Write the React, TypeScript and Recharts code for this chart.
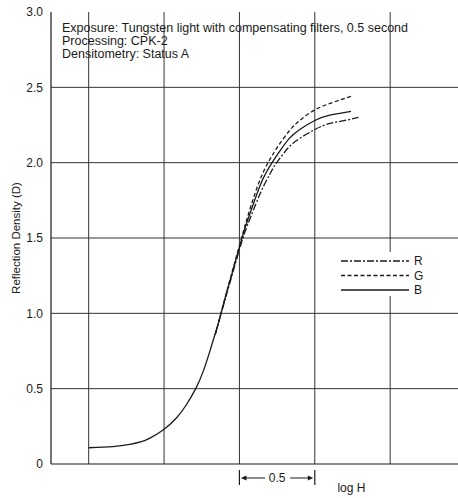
import {
  CartesianGrid,
  Label,
  Legend,
  Line,
  LineChart,
  ReferenceDot,
  ReferenceLine,
  XAxis,
  YAxis,
} from "recharts";

const FONT = '"Liberation Sans", Arial, Helvetica, sans-serif';
const INK = "#1a1a1a";
const GRID = "#333";

// axis / grid values
const densityTicks = [0, 0.5, 1, 1.5, 2, 2.5, 3];
const densityGrid = [0.5, 1, 1.5, 2, 2.5];
const logHGrid = [0.25, 0.75, 1.25, 1.75, 2.25];

// curves (log H in arbitrary units, D = reflection density)
const bLogH = [0.25, 0.41, 0.523, 0.6, 0.656, 0.744, 0.832, 0.899, 0.96, 1.009, 1.053, 1.097, 1.12, 1.16, 1.2, 1.267, 1.313, 1.384, 1.42, 1.46, 1.52, 1.58, 1.65, 1.75, 1.85, 1.99];
const bDensity = [0.108, 0.115, 0.13, 0.148, 0.172, 0.226, 0.305, 0.395, 0.5, 0.613, 0.746, 0.89, 0.97, 1.12, 1.26, 1.5, 1.643, 1.84, 1.92, 1.99, 2.08, 2.16, 2.22, 2.28, 2.315, 2.34];

const gLogH = [1.09, 1.12, 1.16, 1.2, 1.267, 1.313, 1.38, 1.44, 1.5, 1.58, 1.65, 1.75, 1.87, 1.99];
const gDensity = [0.86, 0.97, 1.12, 1.27, 1.51, 1.67, 1.87, 2.0, 2.1, 2.21, 2.28, 2.35, 2.4, 2.44];

const rLogH = [1.09, 1.12, 1.16, 1.2, 1.267, 1.313, 1.39, 1.45, 1.49, 1.55, 1.62, 1.75, 1.85, 1.95, 2.04];
const rDensity = [0.86, 0.97, 1.11, 1.25, 1.48, 1.61, 1.8, 1.92, 1.99, 2.07, 2.14, 2.22, 2.26, 2.28, 2.3];

const notes = [
  "Exposure: Tungsten light with compensating filters, 0.5 second",
  "Processing: CPK-2",
  "Densitometry: Status A",
];

const zip = (xs: number[], ys: number[]) => xs.map((x, i) => ({ logH: x, d: ys[i] }));

const series = [
  { name: "R", data: zip(rLogH, rDensity), dash: "7 2 2 2" },
  { name: "G", data: zip(gLogH, gDensity), dash: "4 2.5" },
  { name: "B", data: zip(bLogH, bDensity), dash: undefined },
];

function NotesText(props: any) {
  const { cx, cy } = props;
  return (
    <text x={cx} y={cy} fontFamily={FONT} fontSize={12.5} fill={INK}>
      {notes.map((t, i) => (
        <tspan key={i} x={cx} y={cy + i * 13.4}>
          {t}
        </tspan>
      ))}
    </text>
  );
}

function LogHText(props: any) {
  const { cx, cy } = props;
  return (
    <text x={cx} y={cy} fontFamily={FONT} fontSize={12} fill={INK} dominantBaseline="central">
      log H
    </text>
  );
}

function DimArrow(props: any) {
  const { x1, x2, y1 } = props;
  const mid = (x1 + x2) / 2;
  const y = y1;
  return (
    <g>
      <line x1={x1} x2={x1} y1={y - 8} y2={y + 7} stroke={INK} strokeWidth={1.2} />
      <line x1={x2} x2={x2} y1={y - 8} y2={y + 7} stroke={INK} strokeWidth={1.2} />
      <line x1={x1 + 6} x2={mid - 12} y1={y} y2={y} stroke={INK} strokeWidth={1} />
      <line x1={mid + 13} x2={x2 - 6} y1={y} y2={y} stroke={INK} strokeWidth={1} />
      <polygon points={`${x1 + 1.5},${y} ${x1 + 7},${y - 2.5} ${x1 + 7},${y + 2.5}`} fill={INK} />
      <polygon points={`${x2 - 1.5},${y} ${x2 - 7},${y - 2.5} ${x2 - 7},${y + 2.5}`} fill={INK} />
      <text x={mid} y={y} textAnchor="middle" dominantBaseline="central" fontFamily={FONT} fontSize={12} fill={INK}>
        0.5
      </text>
    </g>
  );
}

function KeyBox() {
  return (
    <svg width={92} height={44} style={{ display: "block", background: "#fff" }}>
      {series.map((s, i) => (
        <g key={s.name}>
          <line
            x1={6}
            x2={74}
            y1={9 + i * 14.5}
            y2={9 + i * 14.5}
            stroke={INK}
            strokeWidth={1.3}
            strokeDasharray={s.dash}
          />
          <text x={79} y={9 + i * 14.5} dominantBaseline="central" fontFamily={FONT} fontSize={12} fill={INK}>
            {s.name}
          </text>
        </g>
      ))}
    </svg>
  );
}

export default function App() {
  return (
    <div style={{ position: "absolute", left: 0, top: 0, background: "#fff" }}>
      <LineChart width={458} height={498} margin={{ top: 12, right: 0, bottom: 0, left: 0 }}>
        <CartesianGrid horizontalValues={densityGrid} vertical={false} stroke={GRID} strokeWidth={1} />
        {logHGrid.map((v) => (
          <ReferenceLine key={v} x={v} stroke={GRID} strokeWidth={1} />
        ))}
        <XAxis
          type="number"
          dataKey="logH"
          domain={[0, 2.7]}
          ticks={logHGrid}
          tick={false}
          tickLine={false}
          height={34}
          allowDataOverflow
          axisLine={{ stroke: INK, strokeWidth: 1.2 }}
        />
        <YAxis
          type="number"
          domain={[0, 3]}
          ticks={densityTicks}
          tickFormatter={(v: number) => (v === 0 ? "0" : v.toFixed(1))}
          tickLine={false}
          width={51}
          axisLine={{ stroke: INK, strokeWidth: 1.2 }}
          tick={{ fontSize: 12, fill: INK, fontFamily: FONT }}
        >
          <Label
            content={(p: any) => {
              const vb = p.viewBox || { x: 0, y: 12, width: 51, height: 452 };
              const cx = vb.x + 16;
              const cy = vb.y + vb.height / 2;
              return (
                <text
                  x={cx}
                  y={cy}
                  transform={`rotate(-90 ${cx} ${cy})`}
                  textAnchor="middle"
                  dominantBaseline="central"
                  fontFamily={FONT}
                  fontSize={11.5}
                  fill={INK}
                >
                  Reflection Density (D)
                </text>
              );
            }}
          />
        </YAxis>
        {series.map((s) => (
          <Line
            key={s.name}
            name={s.name}
            data={s.data}
            dataKey="d"
            type="natural"
            stroke={INK}
            strokeWidth={1.3}
            strokeDasharray={s.dash}
            dot={false}
            activeDot={false}
            isAnimationActive={false}
          />
        ))}
        <ReferenceDot x={0.073} y={2.87} ifOverflow="visible" shape={NotesText} />
        <ReferenceLine
          segment={[
            { x: 1.25, y: -0.093 },
            { x: 1.75, y: -0.093 },
          ]}
          ifOverflow="visible"
          shape={DimArrow}
        />
        <ReferenceDot x={1.9} y={-0.16} ifOverflow="visible" shape={LogHText} />
        <Legend
          layout="vertical"
          align="center"
          verticalAlign="middle"
          content={() => <KeyBox />}
          wrapperStyle={{ left: 335, top: 252, width: 92, height: 44 }}
        />
      </LineChart>
    </div>
  );
}
